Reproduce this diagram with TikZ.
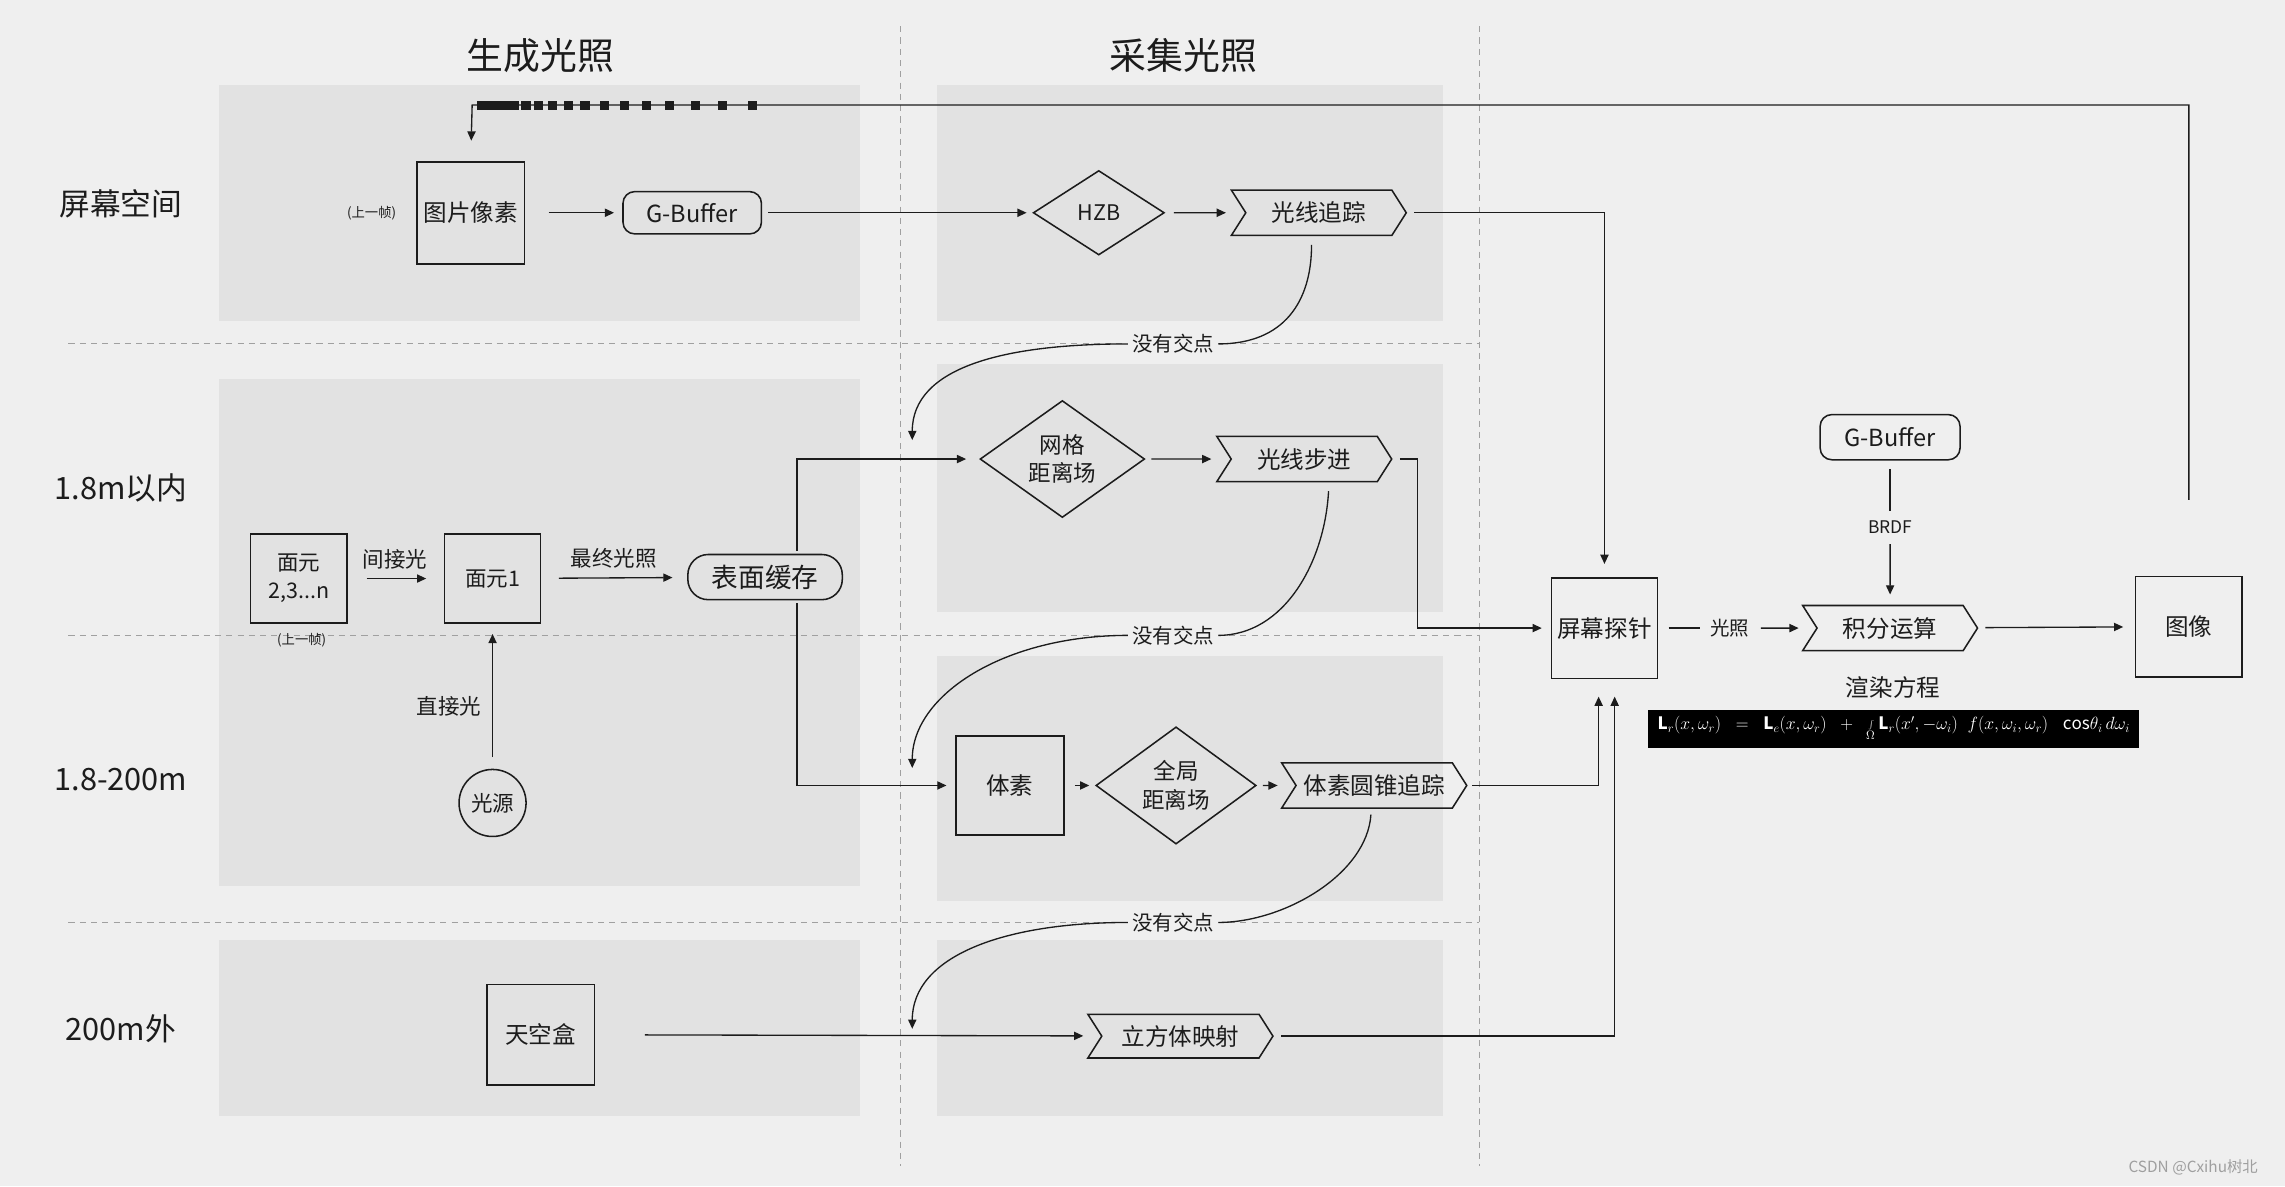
\documentclass[tikz,border=0pt]{standalone}
\usepackage{fontspec}
\setmainfont{Noto Sans CJK SC}
\usetikzlibrary{shapes.geometric,shapes.symbols,arrows.meta,calc}
\definecolor{bgc}{RGB}{239,239,239}
\definecolor{panelc}{RGB}{226,226,226}
\definecolor{ink}{RGB}{28,28,28}
\definecolor{dashc}{RGB}{160,160,160}
\newcommand\fs[2]{\fontsize{#1}{#2}\selectfont}
\begin{document}
\begin{tikzpicture}[x=0.05cm,y=-0.05cm,
  every node/.style={inner sep=0pt,text=ink},
  sqbox/.style={draw=ink,line width=1.5pt,align=center,font=\fs{23}{28}},
  rbox/.style={draw=ink,line width=1.5pt,rounded corners=0.4cm,font=\fs{23}{28}},
  dia/.style={diamond,draw=ink,line width=1.5pt,align=center,font=\fs{22}{28}},
  chev/.style={signal,signal from=west,signal to=east,signal pointer angle=115,draw=ink,line width=1.5pt,font=\fs{23}{28}},
  conn/.style={draw=ink,line width=1.3pt},
  arr/.style={conn,-{Triangle[length=9pt,width=8pt]}},
  tag/.style={font=\fs{20}{24},fill=bgc,inner sep=4pt},
  lab/.style={font=\fs{21}{25}},
  rowlab/.style={font=\fs{30}{34}},
  divider/.style={draw=dashc,line width=1pt,dash pattern=on 6pt off 5pt}
]
\fill[bgc] (0,0) rectangle (1568,814);
\useasboundingbox (0,0) rectangle (1568,814);
% panels
\fill[panelc] (150,58) rectangle (590,220);
\fill[panelc] (150,260) rectangle (590,608);
\fill[panelc] (150,645) rectangle (590,766);
\fill[panelc] (643,58) rectangle (990,220);
\fill[panelc] (643,250) rectangle (990,420);
\fill[panelc] (643,450) rectangle (990,618);
\fill[panelc] (643,645) rectangle (990,766);
% dividers
\draw[divider] (618,18) -- (618,800);
\draw[divider] (1015,18) -- (1015,800);
\draw[divider] (47,236) -- (1015,236);
\draw[divider] (47,436) -- (1015,436);
\draw[divider] (47,633) -- (1015,633);
% titles and row labels
\node[font=\fs{36}{40}] (t1) at (371,38) {生成光照};
\node[font=\fs{36}{40}] (t2) at (812,38) {采集光照};
\node[rowlab] (r1) at (83,140) {屏幕空间};
\node[rowlab] (r2) at (83,335) {1.8m以内};
\node[rowlab] (r3) at (83,535) {1.8-200m};
\node[rowlab] (r4) at (83,706) {200m外};
% screen space row
\node[sqbox,minimum width=3.7cm,minimum height=3.5cm] (pix) at (323,146) {图片像素};
\node[font=\fs{13}{15}] (prev1) at (255,146) {(上一帧)};
\node[rbox,minimum width=4.75cm,minimum height=1.45cm] (gb1) at (475,146) {G-Buffer};
\node[dia,minimum width=4.5cm,minimum height=2.9cm,font=\fs{21}{25}] (hzb) at (754,146) {HZB};
\node[chev,minimum width=6cm,minimum height=1.55cm] (ray) at (905,146) {光线追踪};
% 1.8m row
\node[dia,minimum width=5.65cm,minimum height=3.5cm] (mesh) at (729,315) {网格\\距离场};
\node[chev,minimum width=6cm,minimum height=1.55cm] (march) at (895,315) {光线步进};
\node[rbox,rounded corners=0.7cm,minimum width=5.3cm,minimum height=1.55cm,font=\fs{26}{30}] (cache) at (525,396) {表面缓存};
\node[sqbox,minimum width=3.3cm,minimum height=3.05cm,font=\fs{21}{27}] (m2) at (205,397) {面元\\2,3...n};
\node[font=\fs{13}{15}] (prev2) at (207,439) {(上一帧)};
\node[sqbox,minimum width=3.3cm,minimum height=3.05cm,font=\fs{21}{27}] (m1) at (338,397) {面元1};
\node[circle,draw=ink,line width=1.5pt,minimum size=2.3cm,font=\fs{21}{25}] (light) at (338,551) {光源};
\node[lab] (lb1) at (271,384) {间接光};
\node[lab] (lb2) at (421,383) {最终光照};
\node[lab] (lb3) at (308,485) {直接光};
% 1.8-200m row
\node[sqbox,minimum width=3.7cm,minimum height=3.4cm] (voxel) at (693,539) {体素};
\node[dia,minimum width=5.5cm,minimum height=3.6cm] (gdf) at (807,539) {全局\\距离场};
\node[chev,minimum width=6.35cm,minimum height=1.55cm] (cone) at (943,539) {体素圆锥追踪};
% 200m row
\node[sqbox,minimum width=3.7cm,minimum height=3.45cm] (sky) at (371,710) {天空盒};
\node[chev,minimum width=6.35cm,minimum height=1.5cm] (cube) at (810,711) {立方体映射};
% right part
\node[sqbox,minimum width=3.65cm,minimum height=3.45cm] (probe) at (1101,431) {屏幕探针};
\node[chev,minimum width=6cm,minimum height=1.55cm] (integ) at (1297,431) {积分运算};
\node[rbox,minimum width=4.8cm,minimum height=1.55cm] (gb2) at (1297,300) {G-Buffer};
\node[sqbox,minimum width=3.65cm,minimum height=3.45cm] (img) at (1502,430) {图像};
\node[font=\fs{23}{27}] (rend) at (1299,472) {渲染方程};
\node[fill=black,text=white,minimum width=16.85cm,minimum height=1.3cm,font=\fs{20}{22}] (eq) at (1299.5,500)
  {\resizebox{16.2cm}{!}{$\mathbf{L}_r(x,\omega_r)\;\;=\;\;\mathbf{L}_e(x,\omega_r)\;\;+\;\;\int\limits_{\Omega}\mathbf{L}_r(x',-\omega_i)\;\;f(x,\omega_i,\omega_r)\;\;\;\mathit{cos}\theta_i\,d\omega_i$}};
% tags on lines
\node[tag] (nj1) at (805,236) {没有交点};
\node[tag] (nj2) at (805,436) {没有交点};
\node[tag] (nj3) at (805,633) {没有交点};
\node[tag,font=\fs{19}{22}] (lt) at (1187,431) {光照};
\node[tag,font=\fs{17}{20}] (brdf) at (1297,362) {BRDF};
\node[font=\fs{15}{18},text=gray!75] (wm) at (1505,801) {CSDN @Cxihu树北};
% coordinates
\coordinate (e1) at (626,302);
\coordinate (e2) at (626,527);
\coordinate (e3) at (626,706);
\coordinate (fb) at (324,72);
% connectors
\draw[arr,shorten <=2.6cm,shorten >=0.7cm] (img.north) |- (fb) -- (pix.north);
\fill[ink] (327.5,69.3) rectangle (356,75.3);
\foreach \x in {361,369.5,379,390,401.5,414.6,428.5,443.5,459.3,477.1,496,516.5}
  \fill[ink] (\x-3.2,69.3) rectangle (\x+3.2,75.3);
\draw[arr,shorten <=0.8cm,shorten >=0.28cm] (pix) -- (gb1);
\draw[arr,shorten <=0.2cm,shorten >=0.2cm] (gb1) -- (hzb);
\draw[arr,shorten <=0.3cm,shorten >=0.65cm] (hzb) -- (ray);
\draw[arr,shorten <=0.25cm,shorten >=0.45cm] (ray.east) -| (probe.north);
\draw[conn,shorten <=0.3cm] ([xshift=-0.25cm]ray.south) .. controls +(0,45) and +(45,0) .. (nj1.east);
\draw[arr] (nj1.west) .. controls +(-85,0) and +(0,-50) .. (e1);
\draw[conn,shorten <=0.3cm] ([xshift=0.85cm]march.south) .. controls +(-3,55) and +(45,0) .. (nj2.east);
\draw[arr] (nj2.west) .. controls +(-85,0) and +(0,-50) .. (e2);
\draw[conn,shorten <=0.2cm] ([xshift=-0.1cm]cone.south) .. controls +(-3,45) and +(45,0) .. (nj3.east);
\draw[arr] (nj3.west) .. controls +(-85,0) and +(0,-50) .. (e3);
\draw[arr,shorten <=0.2cm,shorten >=0.65cm] (mesh) -- (march);
\draw[arr,shorten <=0.25cm,shorten >=0.3cm] (march.east) -| ++(17,0) |- (probe.west);
\draw[arr,shorten <=0.1cm,shorten >=0.45cm] ([xshift=1.1cm]cache.north) |- (mesh.west);
\draw[arr,shorten <=0.1cm,shorten >=0.3cm] ([xshift=1.1cm]cache.south) |- (voxel.west);
\draw[arr,shorten <=0.65cm,shorten >=0.6cm] (m2) -- (m1);
\draw[arr,shorten <=0.6cm,shorten >=0.5cm] (m1) -- (cache);
\draw[arr,shorten <=0.4cm,shorten >=0.35cm] (light) -- (m1);
\draw[arr,shorten <=0.35cm,shorten >=0.2cm] (voxel) -- (gdf);
\draw[arr,shorten <=0.2cm,shorten >=0.6cm] (gdf) -- (cone);
\draw[arr,shorten <=0.15cm,shorten >=0.6cm] (cone.east) -| ([xshift=-0.2cm]probe.south);
\draw[arr,shorten <=1.7cm,shorten >=0.6cm] (sky) -- (cube);
\draw[arr,shorten <=0.25cm,shorten >=0.6cm] (cube.east) -| ([xshift=0.35cm]probe.south);
\draw[conn,shorten <=0.35cm,shorten >=0.2cm] (probe) -- (lt);
\draw[arr,shorten <=0.25cm,shorten >=0.6cm] (lt) -- (integ);
\draw[conn,shorten <=0.3cm,shorten >=0.2cm] (gb2) -- (brdf);
\draw[arr,shorten <=0.2cm,shorten >=0.35cm] (brdf) -- (integ);
\draw[arr,shorten <=0.25cm,shorten >=0.4cm] (integ) -- (img);
\end{tikzpicture}
\end{document}
